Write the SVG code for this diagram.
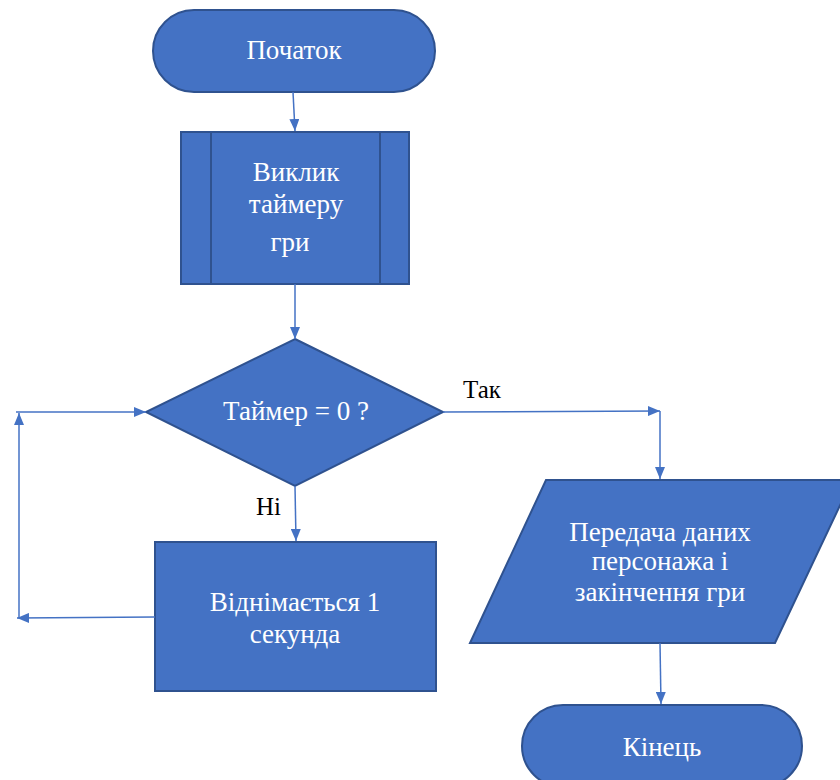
<svg xmlns="http://www.w3.org/2000/svg" width="840" height="780" viewBox="0 0 840 780">
  <style>
    text { font-family: "Times New Roman", "Liberation Serif", Tinos, "DejaVu Serif", "Noto Serif", Georgia, serif; }
    .shape { fill: #4472C4; stroke: #2F528F; stroke-width: 2; }
    .inner { fill: none; stroke: #2F528F; stroke-width: 2; }
    .label { font-size: 27px; fill: #FFFFFF; text-anchor: middle; }
    .edge-label { font-size: 25px; fill: #000000; }
    .conn { fill: none; stroke: #4472C4; stroke-width: 1.5; marker-end: url(#arrow); }
  </style>
  <defs>
    <marker id="arrow" viewBox="0 0 12 10" refX="12" refY="5" markerWidth="12" markerHeight="10" markerUnits="userSpaceOnUse" orient="auto">
      <path d="M0,0 L12,5 L0,10 Z" fill="#4472C4"/>
    </marker>
  </defs>
  <rect width="840" height="780" fill="#FFFFFF"/>

  <g id="start">
    <rect class="shape" x="153" y="10" width="282" height="82" rx="41" ry="41"/>
    <text class="label" x="294" y="59">Початок</text>
  </g>

  <g id="timer-call">
    <rect class="shape" x="181" y="132" width="228" height="152"/>
    <line class="inner" x1="211" y1="132" x2="211" y2="284"/>
    <line class="inner" x1="380" y1="132" x2="380" y2="284"/>
    <text class="label" x="296" y="181">Виклик</text>
    <text class="label" x="296" y="213">таймеру</text>
    <text class="label" x="290" y="251">гри</text>
  </g>

  <g id="check">
    <polygon class="shape" points="295,339 443,412 295,486 146,412"/>
    <text class="label" x="296" y="420">Таймер = 0 ?</text>
  </g>

  <g id="decrement">
    <rect class="shape" x="155" y="542" width="281" height="149"/>
    <text class="label" x="295" y="611">Віднімається 1</text>
    <text class="label" x="295" y="643">секунда</text>
  </g>

  <g id="output">
    <polygon class="shape" points="546,480 852,480 775,643 470,643"/>
    <text class="label" x="660" y="541">Передача даних</text>
    <text class="label" x="660" y="570">персонажа і</text>
    <text class="label" x="660" y="601">закінчення гри</text>
  </g>

  <g id="end">
    <rect class="shape" x="522" y="705" width="280" height="82" rx="41" ry="41"/>
    <text class="label" x="662" y="756">Кінець</text>
  </g>

  <g id="connectors">
    <path class="conn" d="M293,92 L295,131"/>
    <path class="conn" d="M295,284 L295,339"/>
    <path class="conn" d="M443,412 L660,411"/>
    <path class="conn" d="M660,411 L660,479"/>
    <path class="conn" d="M295,486 L296,541"/>
    <path class="conn" d="M155,617 L17,618"/>
    <path class="conn" d="M19,618 L19,413"/>
    <path class="conn" d="M16,412 L146,412"/>
    <path class="conn" d="M660,643 L661,704"/>
    <text class="edge-label" x="463" y="398">Так</text>
    <text class="edge-label" x="256" y="515">Ні</text>
  </g>
</svg>
